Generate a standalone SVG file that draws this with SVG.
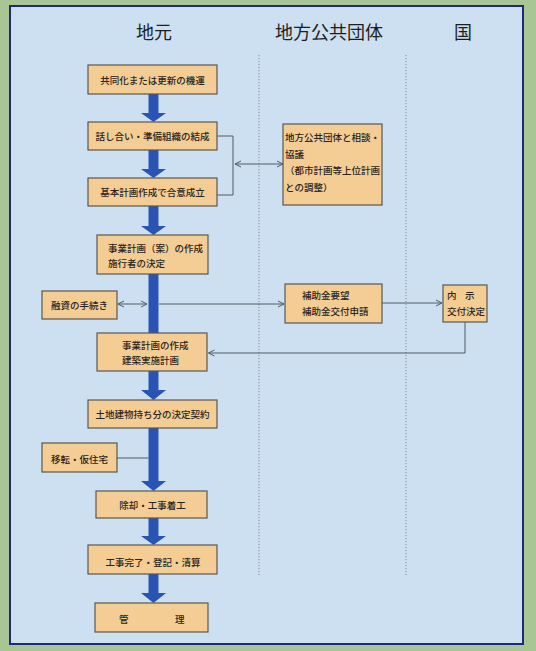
<svg xmlns="http://www.w3.org/2000/svg" width="536" height="651" viewBox="0 0 536 651">
<style>
.box{fill:#f4cd95;stroke:#5a5650;stroke-width:1.2}
.t{font-family:"Noto Sans CJK JP","Noto Sans CJK SC",sans-serif;font-size:9.5px;font-weight:500;fill:#2a2420}
.c{text-anchor:middle}
.h{font-family:"Noto Sans CJK JP","Noto Sans CJK SC",sans-serif;font-size:18px;fill:#1e1e1e;text-anchor:middle}
.ln{fill:none;stroke:#4f5c66;stroke-width:1}
.dot{stroke:#7d8a96;stroke-width:1;stroke-dasharray:1.2 1.8}
.blue{fill:#2a54b4}
</style>
<defs>
<marker id="ah" markerWidth="8" markerHeight="8" refX="7" refY="4" orient="auto-start-reverse" markerUnits="userSpaceOnUse">
<path d="M1,1 L7,4 L1,7" fill="none" stroke="#4f5c66" stroke-width="1"/>
</marker>
</defs>
<rect x="0" y="0" width="536" height="651" fill="#a8c594"/>
<rect x="10" y="6" width="513" height="638" fill="#cde0f1" stroke="#1b2a7a" stroke-width="2"/>
<g id="headers">
<text class="h" x="154" y="39">地元</text>
<text class="h" x="329" y="39">地方公共団体</text>
<text class="h" x="463" y="39">国</text>
</g>
<g id="lanes">
<line class="dot" x1="259" y1="55" x2="259" y2="575"/>
<line class="dot" x1="406" y1="55" x2="406" y2="575"/>
</g>
<g id="connectors">
<path class="blue" d="M148.5,94 H158.5 V113 H166 L153.5,122 L141,113 H148.5 Z"/>
<path class="blue" d="M148.5,150 H158.5 V169 H166 L153.5,178 L141,169 H148.5 Z"/>
<path class="blue" d="M148.5,206 H158.5 V226 H166 L153.5,235 L141,226 H148.5 Z"/>
<rect class="blue" x="148.5" y="274" width="10" height="59"/>
<path class="blue" d="M148.5,371 H158.5 V390 H166 L153.5,400 L141,390 H148.5 Z"/>
<path class="blue" d="M148.5,428 H158.5 V481 H166 L153.5,491 L141,481 H148.5 Z"/>
<path class="blue" d="M148.5,518 H158.5 V536 H166 L153.5,545 L141,536 H148.5 Z"/>
<path class="blue" d="M148.5,574 H158.5 V593 H166 L153.5,603 L141,593 H148.5 Z"/>
<path class="ln" d="M217,136 H233 V195 H217"/>
<line class="ln" x1="235" y1="164" x2="283" y2="164" marker-start="url(#ah)" marker-end="url(#ah)"/>
<line class="ln" x1="118" y1="304" x2="147" y2="304" marker-start="url(#ah)" marker-end="url(#ah)"/>
<line class="ln" x1="159" y1="304" x2="284" y2="304" marker-end="url(#ah)"/>
<line class="ln" x1="382" y1="303" x2="442" y2="303" marker-end="url(#ah)"/>
<path class="ln" d="M465,322 V353 H208.5" marker-end="url(#ah)"/>
<line class="ln" x1="117" y1="458" x2="148.5" y2="458"/>
</g>
<g id="n1"><rect class="box" x="88" y="65" width="129" height="29"/><text class="t c" x="152.5" y="84">共同化または更新の機運</text></g>
<g id="n2"><rect class="box" x="88" y="122" width="129" height="28"/><text class="t c" x="152.5" y="139.5">話し合い・準備組織の結成</text></g>
<g id="n3"><rect class="box" x="88" y="178" width="129" height="28"/><text class="t c" x="152.5" y="195.5">基本計画作成で合意成立</text></g>
<g id="n4"><rect class="box" x="97" y="235" width="111" height="39"/><text class="t" x="108" y="251.5">事業計画（案）の作成</text><text class="t" x="108" y="266.5">施行者の決定</text></g>
<g id="n5"><rect class="box" x="42" y="291" width="75" height="28"/><text class="t c" x="79.5" y="308.5">融資の手続き</text></g>
<g id="n6"><rect class="box" x="97" y="333" width="110" height="38"/><text class="t" x="122" y="348.5">事業計画の作成</text><text class="t" x="122" y="363.5">建築実施計画</text></g>
<g id="n7"><rect class="box" x="88" y="400" width="129" height="28"/><text class="t c" x="152.5" y="417.5">土地建物持ち分の決定契約</text></g>
<g id="n8"><rect class="box" x="42" y="443" width="75" height="29"/><text class="t c" x="79.5" y="462.5">移転・仮住宅</text></g>
<g id="n9"><rect class="box" x="96" y="491" width="111" height="27"/><text class="t c" x="152.5" y="508.5">除却・工事着工</text></g>
<g id="n10"><rect class="box" x="88" y="545" width="129" height="29"/><text class="t c" x="153" y="566">工事完了・登記・清算</text></g>
<g id="n11"><rect class="box" x="95" y="603" width="113" height="29"/><text class="t" x="119 175" y="622.5">管理</text></g>
<g id="n12"><rect class="box" x="283" y="124" width="99" height="81"/><text class="t" x="285" y="140.5">地方公共団体と相談・</text><text class="t" x="285" y="157.5">協議</text><text class="t" x="285" y="174">（都市計画等上位計画</text><text class="t" x="285" y="190.5">との調整）</text></g>
<g id="n13"><rect class="box" x="285" y="284" width="97" height="39"/><text class="t" x="302" y="298.5">補助金要望</text><text class="t" x="302" y="314.5">補助金交付申請</text></g>
<g id="n14"><rect class="box" x="443" y="285" width="44" height="37"/><text class="t" x="447 465" y="298.5">内示</text><text class="t" x="447" y="314.5">交付決定</text></g>
</svg>
